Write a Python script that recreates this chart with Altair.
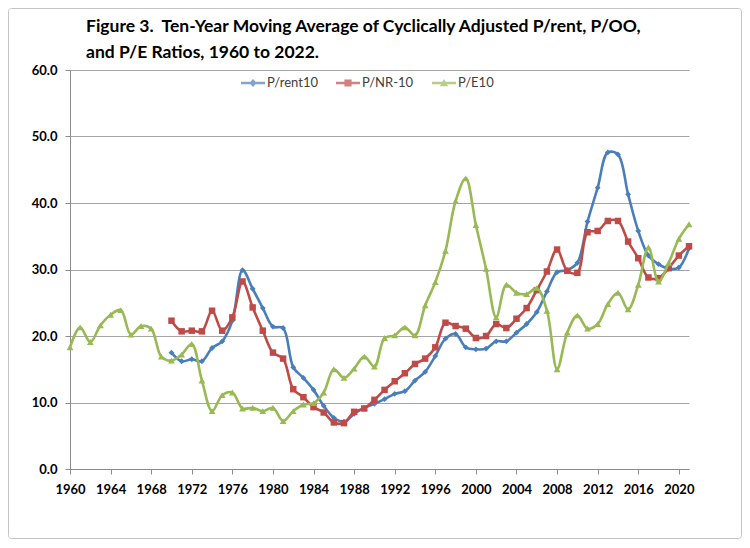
import altair as alt
import pandas as pd

years = list(range(1960, 2022))
pe10 = [18.3, 21.3, 19.1, 21.6, 23.2, 23.9, 20.2, 21.5, 21.1, 16.9,
        16.3, 17.2, 18.8, 13.3, 8.7, 11.1, 11.5, 9.1, 9.2, 8.7,
        9.2, 7.2, 8.7, 9.7, 9.9, 11.5, 15.0, 13.7, 15.1, 16.9,
        15.4, 19.7, 20.1, 21.3, 20.1, 24.6, 28.1, 32.8, 40.3, 43.7,
        36.7, 30.1, 22.8, 27.7, 26.5, 26.3, 27.2, 23.8, 15.0, 20.5,
        23.1, 21.1, 21.8, 24.8, 26.5, 24.0, 27.7, 33.3, 28.2, 31.0,
        34.6, 36.8]

years_housing = list(range(1970, 2022))
prent10 = [17.5, 16.2, 16.5, 16.2, 18.2, 19.2, 22.3, 29.9, 27.1, 24.2,
           21.4, 21.2, 15.3, 13.7, 11.9, 9.5, 7.7, 7.1, 8.3, 9.2,
           9.8, 10.5, 11.3, 11.7, 13.3, 14.6, 17.0, 19.6, 20.3, 18.3,
           18.0, 18.1, 19.2, 19.2, 20.5, 21.8, 23.6, 26.7, 29.6, 29.9,
           31.0, 37.2, 42.3, 47.6, 47.3, 41.3, 35.8, 32.1, 30.8, 30.1,
           30.3, 33.2]
pnr10 = [22.3, 20.7, 20.8, 20.7, 23.8, 20.8, 22.8, 28.2, 24.3, 20.8,
         17.5, 16.6, 12.0, 10.8, 9.3, 8.5, 7.0, 6.9, 8.6, 9.1,
         10.4, 11.9, 13.2, 14.4, 15.8, 16.6, 18.3, 22.0, 21.5, 21.1,
         19.7, 20.0, 21.8, 21.2, 22.6, 24.2, 26.9, 29.7, 33.0, 29.8,
         29.5, 35.6, 35.8, 37.3, 37.3, 34.2, 31.7, 28.8, 28.7, 30.2,
         32.1, 33.5]

series_names = ["P/rent10", "P/NR-10", "P/E10"]
colors = ["#4A7EBB", "#BE4B48", "#98B954"]
marker_shapes = ["diamond", "square", "triangle-up"]
marker_sizes = [34, 42, 46]
legend_paths = [
    "M-1.5,-0.16H1.5V0.16H-1.5Z M0,-0.5L0.45,0L0,0.5L-0.45,0Z",
    "M-1.5,-0.16H1.5V0.16H-1.5Z M-0.45,-0.45H0.45V0.45H-0.45Z",
    "M-1.5,-0.16H1.5V0.16H-1.5Z M0,-0.5L0.52,0.42H-0.52Z",
]

rows = []
for yr, v in zip(years_housing, prent10):
    rows.append({"year": yr, "value": v, "series": "P/rent10"})
for yr, v in zip(years_housing, pnr10):
    rows.append({"year": yr, "value": v, "series": "P/NR-10"})
for yr, v in zip(years, pe10):
    rows.append({"year": yr, "value": v, "series": "P/E10"})
df = pd.DataFrame(rows)

FONT = "Lato"
AXIS_GRAY = "#8c8c8c"

x_enc = alt.X(
    "year:Q",
    scale=alt.Scale(domain=[1960, 2021], nice=False, zero=False),
    axis=alt.Axis(
        values=list(range(1960, 2021, 4)), format="d", title=None, grid=False,
        domainColor=AXIS_GRAY, tickColor=AXIS_GRAY, tickSize=5,
        labelFont=FONT, labelFontWeight="bold", labelFontSize=13,
        labelColor="#000000", labelPadding=9, labelFlush=False,
    ),
)
y_enc = alt.Y(
    "value:Q",
    scale=alt.Scale(domain=[0, 60], nice=False),
    axis=alt.Axis(
        values=[0, 10, 20, 30, 40, 50, 60], format=".1f", title=None,
        grid=True, gridColor="#a6a6a6", gridWidth=1,
        domainColor=AXIS_GRAY, tickColor=AXIS_GRAY, tickSize=5,
        labelFont=FONT, labelFontWeight="bold", labelFontSize=13,
        labelColor="#000000", labelPadding=8,
    ),
)

base = alt.Chart(df)

frame = alt.Chart(pd.DataFrame({"k": [0]})).mark_rect(
    fill="white", fillOpacity=0, stroke="#c4c4c4", strokeWidth=1, cornerRadius=3
).encode(
    x=alt.value(-61.5), x2=alt.value(671.5), y=alt.value(-61.5), y2=alt.value(468.5)
)

layers = [frame]
for name, col, shp, sz in zip(series_names, colors, marker_shapes, marker_sizes):
    sub = base.transform_filter(alt.datum.series == name)
    layers.append(
        sub.mark_line(color=col, strokeWidth=2.6, interpolate="catmull-rom").encode(x=x_enc, y=y_enc)
    )
    layers.append(
        sub.mark_point(shape=shp, filled=True, size=sz, color=col, opacity=1).encode(x=x_enc, y=y_enc)
    )

legend_def = alt.Legend(
    title=None, orient="none", legendX=175, legendY=5, direction="horizontal",
    labelFont=FONT, labelFontSize=13, labelColor="#404040",
    symbolSize=256, symbolStrokeWidth=0, labelOffset=6, columnPadding=18,
)
legend_layer = base.transform_filter("datum.year < 0").mark_point(filled=True).encode(
    x=x_enc, y=y_enc,
    color=alt.Color("series:N", scale=alt.Scale(domain=series_names, range=colors), legend=legend_def),
    shape=alt.Shape("series:N", scale=alt.Scale(domain=series_names, range=legend_paths), legend=legend_def),
)
layers.append(legend_layer)

chart = alt.layer(*layers).properties(
    width=619,
    height=399,
    autosize=alt.AutoSizeParams(type="none"),
    padding={"left": 62, "top": 62, "right": 53, "bottom": 70},
    background="white",
    title=alt.TitleParams(
        text=["Figure 3.\u00a0 Ten-Year Moving Average of Cyclically Adjusted P/rent, P/OO,",
              "and P/E Ratios, 1960 to 2022."],
        anchor="start", frame="group", dx=16, dy=63, offset=10,
        font=FONT, fontSize=17.5, fontWeight="bold", color="#000000", lineHeight=26,
    ),
).configure_view(stroke=None)

chart.save("out.html", embed_options={"renderer": "svg", "actions": False})
